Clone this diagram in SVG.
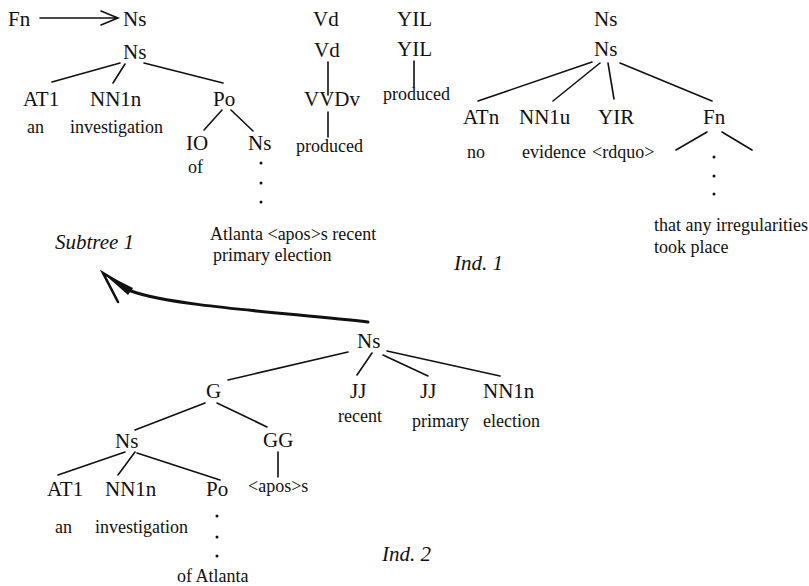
<svg xmlns="http://www.w3.org/2000/svg" width="809" height="586" viewBox="0 0 809 586">
<style>
text { font-family: "Liberation Serif", "Times New Roman", serif; fill: #111; }
.lab { font-size: 21px; }
.word { font-size: 18px; }
.it { font-size: 21px; font-style: italic; }
.edge { stroke: #111; stroke-width: 1.6; fill: none; stroke-linecap: round; }
.dot { fill: #111; }
</style>
<rect width="809" height="586" fill="#fff"/>
<g id="connectors">
  <path class="edge" d="M40,18 H118 M101,11 L118,18 L101,25"/>
  <path class="edge" d="M120,63 L52,82 M125,64 L113,83 M144,63 L223,83 M222,110 L204,130 M231,110 L253,131"/>
  <path class="edge" d="M328,62 V95 M328,112 V137 M414,61 V87"/>
  <path class="edge" d="M592,62 L478,101 M600,63 L553,101 M608,63 L614,99 M620,63 L712,101 M707,132 L676,150 M722,132 L752,150"/>
  <path class="edge" d="M348,352 L228,380 M372,353 L357,375 M383,355 L428,376 M387,351 L500,376"/>
  <path class="edge" d="M205,403 L135,430 M217,403 L267,427 M125,452 L58,475 M135,452 L118,475 M137,453 L220,480 M278,452 V477"/>
  <path d="M368,322 C290,313 170,306 131,291" fill="none" stroke="#111" stroke-width="3" stroke-linecap="round"/>
  <path d="M118,302 L103,273 L131,290" fill="none" stroke="#111" stroke-width="2.6" stroke-linecap="round" stroke-linejoin="miter"/>
  <polygon points="103,273 133,288 128,295" fill="#111"/>
</g>
<g id="tree1">
  <g id="n-fn"><text class="lab" x="8" y="26">Fn</text></g>
  <g id="n-ns-top"><text class="lab" x="123" y="26">Ns</text></g>
  <g id="n-ns1"><text class="lab" x="123" y="59">Ns</text></g>
  <g id="n-at1"><text class="lab" x="23" y="106">AT1</text></g>
  <g id="n-nn1n"><text class="lab" x="90" y="106">NN1n</text></g>
  <g id="n-po"><text class="lab" x="213" y="106">Po</text></g>
  <g id="w-an"><text class="word" x="27" y="133">an</text></g>
  <g id="w-investigation"><text class="word" x="70" y="133">investigation</text></g>
  <g id="n-io"><text class="lab" x="186" y="150">IO</text></g>
  <g id="n-ns2"><text class="lab" x="248" y="150">Ns</text></g>
  <g id="w-of"><text class="word" x="188" y="173">of</text></g>
  <g id="dots1"><circle class="dot" cx="261" cy="163" r="1.5"/><circle class="dot" cx="261" cy="183" r="1.5"/><circle class="dot" cx="261" cy="202" r="1.5"/></g>
  <g id="w-atlanta"><text class="word" x="210" y="240">Atlanta &lt;apos&gt;s recent</text><text class="word" x="213" y="261">primary election</text></g>
</g>
<g id="tree-vd">
  <g id="n-vd-top"><text class="lab" x="313" y="26">Vd</text></g>
  <g id="n-vd"><text class="lab" x="314" y="57">Vd</text></g>
  <g id="n-vvdv"><text class="lab" x="304" y="106">VVDv</text></g>
  <g id="w-produced1"><text class="word" x="296" y="152">produced</text></g>
</g>
<g id="tree-yil">
  <g id="n-yil-top"><text class="lab" x="397" y="26">YIL</text></g>
  <g id="n-yil"><text class="lab" x="397" y="56">YIL</text></g>
  <g id="w-produced2"><text class="word" x="383" y="100">produced</text></g>
</g>
<g id="tree-right">
  <g id="n-ns-r-top"><text class="lab" x="594" y="26">Ns</text></g>
  <g id="n-ns-r"><text class="lab" x="594" y="56">Ns</text></g>
  <g id="n-atn"><text class="lab" x="463" y="124">ATn</text></g>
  <g id="n-nn1u"><text class="lab" x="519" y="124">NN1u</text></g>
  <g id="n-yir"><text class="lab" x="598" y="124">YIR</text></g>
  <g id="n-fn-r"><text class="lab" x="703" y="124">Fn</text></g>
  <g id="w-no"><text class="word" x="467" y="158">no</text></g>
  <g id="w-evidence"><text class="word" x="522" y="158">evidence</text></g>
  <g id="w-rdquo"><text class="word" x="592" y="158">&lt;rdquo&gt;</text></g>
  <g id="dots2"><circle class="dot" cx="714" cy="157" r="1.5"/><circle class="dot" cx="714" cy="176" r="1.5"/><circle class="dot" cx="714" cy="194" r="1.5"/></g>
  <g id="w-that"><text class="word" x="654" y="231">that any irregularities</text><text class="word" x="654" y="253">took place</text></g>
</g>
<g id="label-ind1"><text class="it" x="454" y="270">Ind. 1</text></g>
<g id="label-subtree"><text class="it" x="55" y="249">Subtree 1</text></g>
<g id="tree2">
  <g id="b-ns"><text class="lab" x="357" y="348">Ns</text></g>
  <g id="b-g"><text class="lab" x="206" y="398">G</text></g>
  <g id="b-jj1"><text class="lab" x="350" y="398">JJ</text></g>
  <g id="b-jj2"><text class="lab" x="420" y="398">JJ</text></g>
  <g id="b-nn1n"><text class="lab" x="483" y="398">NN1n</text></g>
  <g id="b-recent"><text class="word" x="338" y="422">recent</text></g>
  <g id="b-primary"><text class="word" x="412" y="427">primary</text></g>
  <g id="b-election"><text class="word" x="483" y="427">election</text></g>
  <g id="b-ns2"><text class="lab" x="115" y="448">Ns</text></g>
  <g id="b-gg"><text class="lab" x="263" y="447">GG</text></g>
  <g id="b-at1"><text class="lab" x="47" y="496">AT1</text></g>
  <g id="b-nn1n2"><text class="lab" x="105" y="496">NN1n</text></g>
  <g id="b-po"><text class="lab" x="206" y="496">Po</text></g>
  <g id="b-apos"><text class="word" x="248" y="492">&lt;apos&gt;s</text></g>
  <g id="b-an"><text class="word" x="55" y="533">an</text></g>
  <g id="b-investigation"><text class="word" x="95" y="533">investigation</text></g>
  <g id="dots3"><circle class="dot" cx="217" cy="516" r="1.5"/><circle class="dot" cx="217" cy="537" r="1.5"/><circle class="dot" cx="217" cy="556" r="1.5"/></g>
  <g id="b-ofatlanta"><text class="word" x="177" y="582">of Atlanta</text></g>
</g>
<g id="label-ind2"><text class="it" x="382" y="561">Ind. 2</text></g>
</svg>
